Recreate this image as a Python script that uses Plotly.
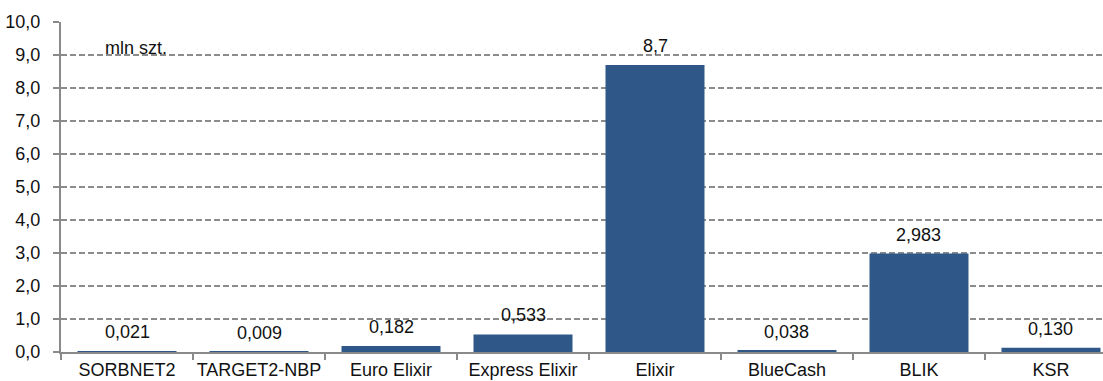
import plotly.graph_objects as go

# Liczba zleceń w systemach płatności (mln szt.)
categories = ["SORBNET2", "TARGET2-NBP", "Euro Elixir", "Express Elixir",
              "Elixir", "BlueCash", "BLIK", "KSR"]
values = [0.021, 0.009, 0.182, 0.533, 8.7, 0.038, 2.983, 0.130]
value_labels = ["0,021", "0,009", "0,182", "0,533", "8,7", "0,038", "2,983", "0,130"]
unit_label = "mln szt."

FONT = "Arial, Liberation Sans, sans-serif"
FONT_SIZE = 18
TEXT_COLOR = "#111111"
BAR_COLOR = "#2F5889"
GRID_COLOR = "#8C8C8C"
AXIS_COLOR = "#8A8A8A"

fig = go.Figure(
    go.Bar(
        x=categories,
        y=values,
        width=0.75,
        marker=dict(color=BAR_COLOR, line=dict(width=0)),
        hoverinfo="skip",
    )
)

# value labels above each bar
for cat, val, txt in zip(categories, values, value_labels):
    fig.add_annotation(
        x=cat, y=val, text=txt, showarrow=False,
        xanchor="center", yanchor="bottom", yshift=7,
        font=dict(family=FONT, size=FONT_SIZE, color=TEXT_COLOR),
    )

# unit caption in the top-left corner of the plot
fig.add_annotation(
    xref="paper", yref="y", x=0.04, y=9.0, text=unit_label, showarrow=False,
    xanchor="left", yanchor="bottom", yshift=-5,
    font=dict(family=FONT, size=FONT_SIZE, color=TEXT_COLOR),
)

fig.update_layout(
    width=1103, height=381,
    margin=dict(l=61, r=0, t=22, b=29),
    paper_bgcolor="white", plot_bgcolor="white",
    separators=", ",
    showlegend=False,
    font=dict(family=FONT, size=FONT_SIZE, color=TEXT_COLOR),
    bargap=0.25,
)

fig.update_xaxes(
    type="category",
    range=[-0.5, 7.394],
    tickangle=0, automargin=False,
    showline=True, linecolor=AXIS_COLOR, linewidth=2,
    ticks="outside", tickson="boundaries", ticklen=6, tickwidth=2, tickcolor=AXIS_COLOR,
    showgrid=False, zeroline=False,
    tickfont=dict(family=FONT, size=FONT_SIZE, color=TEXT_COLOR),
    fixedrange=True,
)

fig.update_yaxes(
    range=[0, 10], dtick=1, tick0=0, tickformat=".1f",
    automargin=False,
    showline=True, linecolor=AXIS_COLOR, linewidth=2,
    ticks="outside", ticklen=6, tickwidth=2, tickcolor=AXIS_COLOR,
    ticklabelstandoff=9,
    showgrid=True, gridcolor=GRID_COLOR, gridwidth=1.5, griddash="6px,3px",
    zeroline=False,
    tickfont=dict(family=FONT, size=FONT_SIZE, color=TEXT_COLOR),
    fixedrange=True,
)

fig.write_html("out.html", config={"displayModeBar": False})
